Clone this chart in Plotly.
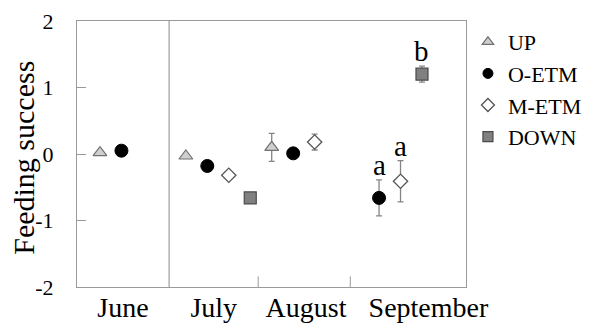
import plotly.graph_objects as go

# ---- data ----
months = ["June", "July", "August", "September"]
groups = ["UP", "O-ETM", "M-ETM", "DOWN"]

# values per group, per month (None = no data)
up_vals   = [0.02, -0.03, 0.10, None]
up_err    = [0.0, 0.0, 0.21, None]
oetm_vals = [0.05, -0.18, 0.01, -0.66]
oetm_err  = [0.0, 0.0, 0.0, 0.27]
metm_vals = [None, -0.32, 0.18, -0.41]
metm_err  = [None, 0.0, 0.12, 0.31]
down_vals = [None, -0.66, None, 1.20]
down_err  = [None, 0.0, None, 0.12]

# significance letters (September)
letters_group = ["O-ETM", "M-ETM", "DOWN"]
letters_text = ["a", "a", "b"]

y_ticks = [-2, -1, 0, 1, 2]
month_label_pos = [2.07, 6.3, 10.6, 16.3]

FONT = "Liberation Serif"

series = {
    "UP": (up_vals, up_err, dict(symbol="triangle-up", size=12, color="#cfcfcf",
                                 line=dict(color="#707070", width=1.2))),
    "O-ETM": (oetm_vals, oetm_err, dict(symbol="circle", size=13, color="#000000",
                                        line=dict(color="#000000", width=1))),
    "M-ETM": (metm_vals, metm_err, dict(symbol="diamond", size=11, color="#ffffff",
                                        line=dict(color="#555555", width=1.3))),
    "DOWN": (down_vals, down_err, dict(symbol="square", size=12, color="#808080",
                                       line=dict(color="#4a4a4a", width=1.2))),
}


def xpos(month_idx, group_idx):
    return 4 * month_idx + group_idx + 1


fig = go.Figure()
for gi, g in enumerate(groups):
    vals, errs, mk = series[g]
    xs, ys, es = [], [], []
    for mi in range(len(months)):
        if vals[mi] is None:
            continue
        xs.append(xpos(mi, gi))
        ys.append(vals[mi])
        es.append(errs[mi])
    fig.add_trace(go.Scatter(
        x=xs, y=ys, mode="markers", marker=mk, showlegend=False,
        error_y=dict(type="data", array=es, visible=True, color="#858585",
                     thickness=1.3, width=3),
    ))
    # legend entry with smaller symbol
    lmk = dict(mk)
    lmk["size"] = 10
    fig.add_trace(go.Scatter(x=[None], y=[None], mode="markers", marker=lmk,
                             name=g, showlegend=True))

# letters
for g, t in zip(letters_group, letters_text):
    gi = groups.index(g)
    vals, errs, _ = series[g]
    mi = 3
    fig.add_annotation(x=xpos(mi, gi), y=vals[mi] + errs[mi], text=t,
                       showarrow=False, yanchor="bottom", yshift=-3,
                       font=dict(family=FONT, size=29, color="#000"))

# y-axis title
fig.add_annotation(xref="paper", yref="paper", x=-0.138, y=0.487,
                   text="Feeding success", textangle=-90, showarrow=False,
                   xanchor="center", yanchor="middle",
                   font=dict(family=FONT, size=30, color="#000"))

# separator and small ticks
fig.add_shape(type="line", xref="x", yref="paper", x0=4.22, x1=4.22, y0=0, y1=1,
              line=dict(color="#888888", width=1))
for xv in [8.37, 12.66]:
    fig.add_shape(type="line", xref="x", yref="paper", x0=xv, x1=xv, y0=0, y1=0.04,
                  line=dict(color="#999999", width=1))

fig.update_layout(
    width=593, height=326,
    margin=dict(l=77, r=127, t=21, b=39, autoexpand=False),
    paper_bgcolor="white", plot_bgcolor="white",
    font=dict(family=FONT, color="#000"),
    showlegend=True,
    legend=dict(x=1.005, y=1.0, xanchor="left", yanchor="top",
                font=dict(family=FONT, size=22, color="#000"),
                itemwidth=30, tracegroupgap=0, bgcolor="rgba(0,0,0,0)"),
)
fig.update_xaxes(range=[-0.07, 18.05], showgrid=False, zeroline=False,
                 automargin=False,
                 tickvals=month_label_pos, ticktext=months, ticks="",
                 tickfont=dict(family=FONT, size=28, color="#000"),
                 showline=True, linecolor="#999999", linewidth=1, mirror=True,
                 ticklabelstandoff=-5)
fig.update_yaxes(range=[-2, 2], showgrid=False, zeroline=False,
                 automargin=False,
                 tickvals=y_ticks, ticktext=[str(v) for v in y_ticks],
                 ticks="inside", ticklen=9, tickcolor="#999999",
                 tickfont=dict(family=FONT, size=22, color="#000"),
                 showline=True, linecolor="#999999", linewidth=1, mirror=True,
                 ticklabelstandoff=18)

fig.write_html("out.html")
